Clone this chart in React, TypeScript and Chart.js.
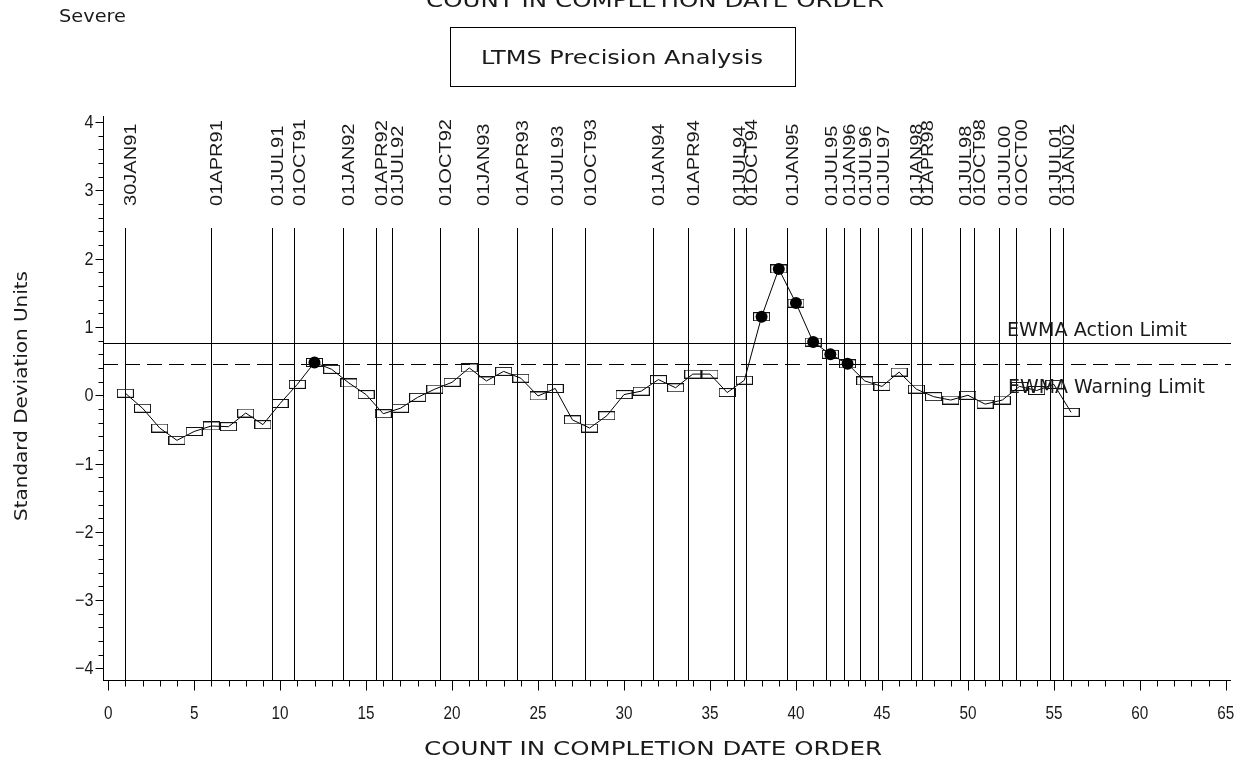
import React, { useEffect, useRef } from 'react';
import { Chart, registerables } from 'chart.js';

Chart.register(...registerables);

// ---- data ----
const counts = [
  1, 2, 3, 4, 5, 6, 7, 8, 9, 10, 11, 12, 13, 14, 15, 16, 17, 18, 19, 20,
  21, 22, 23, 24, 25, 26, 27, 28, 29, 30, 31, 32, 33, 34, 35, 36, 37, 38, 39, 40,
  41, 42, 43, 44, 45, 46, 47, 48, 49, 50, 51, 52, 53, 54, 55, 56,
];
const ewmaValues = [
  0.03, -0.19, -0.48, -0.66, -0.53, -0.45, -0.46, -0.26, -0.43, -0.12,
  0.16, 0.48, 0.38, 0.18, 0.01, -0.27, -0.19, -0.03, 0.09, 0.19,
  0.4, 0.21, 0.35, 0.25, -0.01, 0.1, -0.36, -0.48, -0.3, 0.01,
  0.06, 0.23, 0.11, 0.31, 0.31, 0.04, 0.22, 1.15, 1.85, 1.35,
  0.78, 0.6, 0.46, 0.21, 0.13, 0.34, 0.09, -0.02, -0.07, 0.0,
  -0.13, -0.07, 0.13, 0.07, 0.16, -0.25,
];
const flaggedCounts = [12, 38, 39, 40, 41, 42, 43];
const actionLimit = 0.758;
const warningLimit = 0.4506;
const dateLabels = [
  '30JAN91', '01APR91', '01JUL91', '01OCT91', '01JAN92', '01APR92', '01JUL92',
  '01OCT92', '01JAN93', '01APR93', '01JUL93', '01OCT93', '01JAN94', '01APR94',
  '01JUL94', '01OCT94', '01JAN95', '01JUL95', '01JAN96', '01JUL96', '01JUL97',
  '01JAN98', '01APR98', '01JUL98', '01OCT98', '01JUL00', '01OCT00', '01JUL01',
  '01JAN02',
];
const datePositions = [
  1.0, 5.96, 9.53, 10.78, 13.65, 15.57, 16.49, 19.31, 21.53, 23.77, 25.79,
  27.76, 31.7, 33.7, 36.37, 37.08, 39.48, 41.76, 42.78, 43.71, 44.76, 46.67,
  47.34, 49.56, 50.34, 51.83, 52.77, 54.77, 55.55,
];
const xTickValues = [0, 5, 10, 15, 20, 25, 30, 35, 40, 45, 50, 55, 60, 65];
const xTickLabels = ['0', '5', '10', '15', '20', '25', '30', '35', '40', '45', '50', '55', '60', '65'];
const yTickValues = [4, 3, 2, 1, 0, -1, -2, -3, -4];
const yTickLabels = ['4', '3', '2', '1', '0', '\u22121', '\u22122', '\u22123', '\u22124'];

const chartTitle = 'LTMS Precision Analysis';
const xAxisTitle = 'COUNT IN COMPLETION DATE ORDER';
const yAxisTitle = 'Standard Deviation Units';
const cornerNote = 'Severe';
const actionLabel = 'EWMA Action Limit';
const warningLabel = 'EWMA Warning Limit';

// ---- layout / style ----
const W = 1252;
const H = 761;
const X_MIN = -0.3;
const X_MAX = 65.3;
const Y_MIN = -4.17;
const Y_MAX = 4.09;
const DATE_LINE_TOP_PX = 228;
const DATE_LABEL_BOTTOM_PX = 206;
const LIGHT = '"DejaVu Sans", sans-serif';
const TICKFONT = '"Liberation Sans", Arial, sans-serif';
const TEXT_COLOR = '#1a1a1a';

function makeRectMarker(): HTMLCanvasElement {
  const c = document.createElement('canvas');
  c.width = 17;
  c.height = 9;
  const g = c.getContext('2d')!;
  g.strokeStyle = '#111';
  g.lineWidth = 1;
  g.strokeRect(0.5, 0.5, 16, 8);
  return c;
}

function drawFit(
  ctx: CanvasRenderingContext2D,
  text: string,
  x: number,
  y: number,
  font: string,
  align: CanvasTextAlign,
  baseline: CanvasTextBaseline,
  targetW?: number,
  sxFixed?: number
) {
  ctx.font = font;
  const w = ctx.measureText(text).width;
  const sx = targetW ? targetW / w : sxFixed || 1;
  ctx.save();
  ctx.translate(x, y);
  ctx.scale(sx, 1);
  ctx.textAlign = align;
  ctx.textBaseline = baseline;
  ctx.fillText(text, 0, 0);
  ctx.restore();
}

const decorPlugin = {
  id: 'decor',
  beforeDatasetsDraw(chart: any) {
    const { ctx, chartArea, scales } = chart;
    const x = scales.x;
    ctx.save();
    ctx.strokeStyle = '#000';
    ctx.fillStyle = TEXT_COLOR;
    ctx.lineWidth = 1;
    datePositions.forEach((d, i) => {
      const px = Math.round(x.getPixelForValue(d)) + 0.5;
      ctx.beginPath();
      ctx.moveTo(px, DATE_LINE_TOP_PX);
      ctx.lineTo(px, chartArea.bottom);
      ctx.stroke();
      ctx.save();
      ctx.translate(px + 6, DATE_LABEL_BOTTOM_PX);
      ctx.rotate(-Math.PI / 2);
      ctx.font = '17px ' + TICKFONT;
      ctx.textAlign = 'left';
      ctx.textBaseline = 'middle';
      ctx.scale(1.18, 0.95);
      ctx.fillText(dateLabels[i], 0, 0);
      ctx.restore();
    });
    ctx.restore();
  },
  afterDraw(chart: any) {
    const { ctx, chartArea, scales } = chart;
    const x = scales.x;
    const y = scales.y;
    ctx.save();
    ctx.strokeStyle = '#000';
    ctx.fillStyle = TEXT_COLOR;
    ctx.lineWidth = 1;
    const L = Math.round(chartArea.left) + 0.5;
    const B = Math.round(chartArea.bottom) + 0.5;

    // y axis
    ctx.beginPath();
    ctx.moveTo(L, Math.round(chartArea.top));
    ctx.lineTo(L, B);
    ctx.stroke();
    for (let k = -20; k <= 20; k++) {
      const v = k / 5;
      if (v < Y_MIN || v > Y_MAX) continue;
      const py = Math.round(y.getPixelForValue(v)) + 0.5;
      const len = k % 5 === 0 ? 8 : 5;
      ctx.beginPath();
      ctx.moveTo(L - len, py);
      ctx.lineTo(L, py);
      ctx.stroke();
    }
    yTickValues.forEach((v, i) => {
      drawFit(ctx, yTickLabels[i], L - 10, y.getPixelForValue(v) + 1, '18px ' + TICKFONT, 'right', 'middle', undefined, 0.9);
    });

    // x axis
    ctx.beginPath();
    ctx.moveTo(Math.round(chartArea.left), B);
    ctx.lineTo(Math.round(chartArea.right), B);
    ctx.stroke();
    for (let n = 0; n <= 65; n++) {
      const px = Math.round(x.getPixelForValue(n)) + 0.5;
      const len = n % 5 === 0 ? 10 : 6;
      ctx.beginPath();
      ctx.moveTo(px, B);
      ctx.lineTo(px, B + len);
      ctx.stroke();
    }
    xTickValues.forEach((v, i) => {
      drawFit(ctx, xTickLabels[i], x.getPixelForValue(v), 719, '18px ' + TICKFONT, 'center', 'alphabetic', undefined, 0.85);
    });

    // titles
    drawFit(ctx, xAxisTitle, 653, 755, '20px ' + LIGHT, 'center', 'alphabetic', 458);
    drawFit(ctx, xAxisTitle, 655, 7, '20px ' + LIGHT, 'center', 'alphabetic', 458);
    drawFit(ctx, cornerNote, 59, 22, '18px ' + LIGHT, 'left', 'alphabetic', 67);

    ctx.save();
    ctx.translate(22, 396);
    ctx.rotate(-Math.PI / 2);
    drawFit(ctx, yAxisTitle, 0, 0, '18px ' + LIGHT, 'center', 'middle', 250);
    ctx.restore();

    // title box
    ctx.strokeRect(450.5, 27.5, 345, 59);
    drawFit(ctx, chartTitle, 622, 64, '19px ' + LIGHT, 'center', 'alphabetic', 282);

    // limit labels
    drawFit(ctx, actionLabel, 1007, 336, '20px ' + LIGHT, 'left', 'alphabetic', 180);
    drawFit(ctx, warningLabel, 1008, 393, '20px ' + LIGHT, 'left', 'alphabetic', 197);
    ctx.restore();
  },
};

export default function App() {
  const ref = useRef<HTMLCanvasElement | null>(null);
  useEffect(() => {
    if (!ref.current) return;
    const marker = makeRectMarker();
    const ewmaPoints = counts.map((c, i) => ({ x: c, y: ewmaValues[i] }));
    const flaggedPoints = flaggedCounts.map((c) => ({ x: c, y: ewmaValues[counts.indexOf(c)] }));
    const chart = new Chart(ref.current, {
      type: 'line',
      data: {
        datasets: [
          {
            label: 'flagged',
            data: flaggedPoints,
            showLine: false,
            pointStyle: 'circle',
            pointRadius: 6,
            pointBackgroundColor: '#000',
            pointBorderColor: '#000',
            pointBorderWidth: 0,
            order: 0,
          },
          {
            label: 'EWMA',
            data: ewmaPoints,
            borderColor: '#000',
            borderWidth: 1,
            pointStyle: marker as any,
            pointRadius: 8,
            tension: 0,
            order: 1,
          },
          {
            label: 'action',
            data: [
              { x: X_MIN, y: actionLimit },
              { x: X_MAX, y: actionLimit },
            ],
            borderColor: '#000',
            borderWidth: 1,
            pointRadius: 0,
            order: 2,
          },
          {
            label: 'warning',
            data: [
              { x: X_MIN, y: warningLimit },
              { x: X_MAX, y: warningLimit },
            ],
            borderColor: '#000',
            borderWidth: 1,
            borderDash: [15, 7],
            pointRadius: 0,
            order: 3,
          },
        ],
      },
      options: {
        animation: false,
        responsive: false,
        maintainAspectRatio: false,
        devicePixelRatio: 1,
        layout: { padding: { left: 103, top: 116, right: W - 1231, bottom: H - 680 } },
        scales: {
          x: { type: 'linear', min: X_MIN, max: X_MAX, display: false },
          y: { type: 'linear', min: Y_MIN, max: Y_MAX, display: false },
        },
        plugins: { legend: { display: false }, tooltip: { enabled: false } },
      },
      plugins: [decorPlugin],
    });
    return () => chart.destroy();
  }, []);
  return (
    <div style={{ position: 'fixed', left: 0, top: 0, width: W, height: H, background: '#fff' }}>
      <canvas ref={ref} width={W} height={H} style={{ display: 'block', width: W, height: H }} />
    </div>
  );
}
